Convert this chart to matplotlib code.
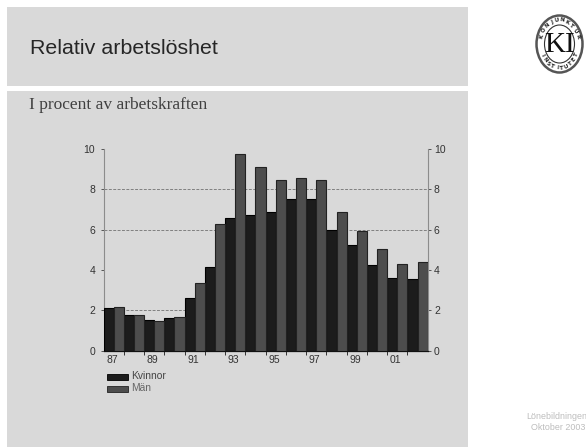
import numpy as np
import matplotlib
matplotlib.use('Agg')
import matplotlib.pyplot as plt
from matplotlib.patches import Rectangle, Ellipse
from matplotlib.transforms import ScaledTranslation

W, H = 586, 447
PANEL = '#d9d9d9'
DARK = '#1c1c1c'
MID = '#4d4d4d'

years = ['87', '88', '89', '90', '91', '92', '93', '94', '95', '96', '97', '98', '99', '00', '01', '02']
kvinnor = [2.12, 1.77, 1.52, 1.64, 2.60, 4.15, 6.60, 6.73, 6.90, 7.52, 7.52, 6.00, 5.22, 4.26, 3.62, 3.57]
man = [2.15, 1.77, 1.47, 1.69, 3.34, 6.28, 9.73, 9.12, 8.45, 8.55, 8.45, 6.90, 5.93, 5.02, 4.31, 4.38]
y_ticks = [0, 2, 4, 6, 8, 10]
grid_levels = [2, 6, 8]
seal_text = 'KONJUNKTUR'
seal_text2 = 'INSTITUTET'

fig = plt.figure(figsize=(W / 100, H / 100), dpi=100, facecolor='white')

# page layer in pixel coordinates
page = fig.add_axes([0, 0, 1, 1])
page.set_xlim(0, W)
page.set_ylim(H, 0)
page.axis('off')
page.add_patch(Rectangle((7, 7), 461, 79, fc=PANEL, ec='none'))
page.add_patch(Rectangle((7, 91), 461, 356, fc=PANEL, ec='none'))
page.text(30, 49, 'Relativ arbetslöshet', fontsize=15.4, family='Liberation Sans', color='#262626', va='center')
page.text(29, 105, 'I procent av arbetskraften', fontsize=12.5, family='Liberation Serif', color='#404040', va='center')
page.text(587, 416.5, 'Lönebildningen', fontsize=6.4, family='Liberation Sans', color='#bdbdbd', ha='right', va='center')
page.text(585, 428, 'Oktober 2003', fontsize=6.4, family='Liberation Sans', color='#bdbdbd', ha='right', va='center')

# institute seal
cx, cy = 559.5, 44
page.add_patch(Ellipse((cx, cy), 46, 57, fc='white', ec='#555555', lw=1.8))
page.add_patch(Ellipse((cx, cy), 30, 38, fc='white', ec='#333333', lw=0.8))
page.text(cx, cy + 0.5, 'KI', fontsize=21, family='Liberation Serif', color='#111111', ha='center', va='center')
for i, ch in enumerate(seal_text):
    a = np.radians(90 + 72 - i * 16)
    page.text(cx + 19 * np.cos(a), cy - 24 * np.sin(a), ch, fontsize=4, weight='bold', color='#222222',
              ha='center', va='center', rotation=np.degrees(a) - 90)
for i, ch in enumerate(seal_text2):
    a = np.radians(270 - 63 + i * 14)
    page.text(cx + 19 * np.cos(a), cy - 24 * np.sin(a), ch, fontsize=4, weight='bold', color='#222222',
              ha='center', va='center', rotation=np.degrees(a) + 90)

# chart axes
left, right, top, bottom = 103.5, 427.7, 149, 350.7
ax = fig.add_axes([left / W, 1 - bottom / H, (right - left) / W, (bottom - top) / H])
ax.patch.set_alpha(0)
x = np.arange(len(years))
bw = 0.5
ax.bar(x - bw / 2, kvinnor, bw, color=DARK, edgecolor='black', linewidth=0.8, zorder=3)
ax.bar(x + bw / 2, man, bw, color=MID, edgecolor='#222222', linewidth=0.8, zorder=3)
ax.set_xlim(-0.5, len(years) - 0.5)
ax.set_ylim(0, 10)
ax.hlines(grid_levels, -0.5, len(years) - 0.5, color='#808080', linestyle=(0, (3, 1.5)), linewidth=0.7, zorder=1)

ax.spines['top'].set_visible(False)
for s in ['left', 'right']:
    ax.spines[s].set_color('#8c8c8c')
    ax.spines[s].set_linewidth(0.8)
ax.spines['bottom'].set_color('#111111')
ax.spines['bottom'].set_linewidth(0.9)

ax.set_yticks(y_ticks)
ax.tick_params(axis='y', left=True, right=True, labelleft=True, labelright=True, length=2.5, width=0.7,
               color='#555555', labelsize=7.5, labelcolor='#333333', pad=2)
# left labels sit a little further from the axis than the right ones
shift = ScaledTranslation(-2 / 100, 0, fig.dpi_scale_trans)
for tick in ax.yaxis.get_major_ticks():
    tick.label1.set_transform(tick.label1.get_transform() + shift)
    tick.label1.set_family('Liberation Sans')
    tick.label2.set_family('Liberation Sans')
ax.set_xticks(x[:-1] + 0.5)
ax.set_xticklabels([])
ax.tick_params(axis='x', length=3, width=0.7, color='#333333')
for i in range(0, len(years), 2):
    ax.annotate(years[i], (x[i], 0), xytext=(-1.2, -6.6), textcoords='offset points', fontsize=7.5,
                family='Liberation Sans', color='#333333', ha='center', va='center', annotation_clip=False)

# legend drawn by hand on the page layer
page.add_patch(Rectangle((107, 374), 20.5, 5.5, fc=DARK, ec='black', lw=0.6))
page.add_patch(Rectangle((107, 385.5), 20.5, 6.5, fc=MID, ec='#222222', lw=0.6))
page.text(131, 375.7, 'Kvinnor', fontsize=7.4, color='#444444', family='Liberation Sans', va='center')
page.text(131, 388, 'Män', fontsize=7.4, color='#666666', family='Liberation Sans', va='center')

fig.savefig('out.png', dpi=100, facecolor='white')
